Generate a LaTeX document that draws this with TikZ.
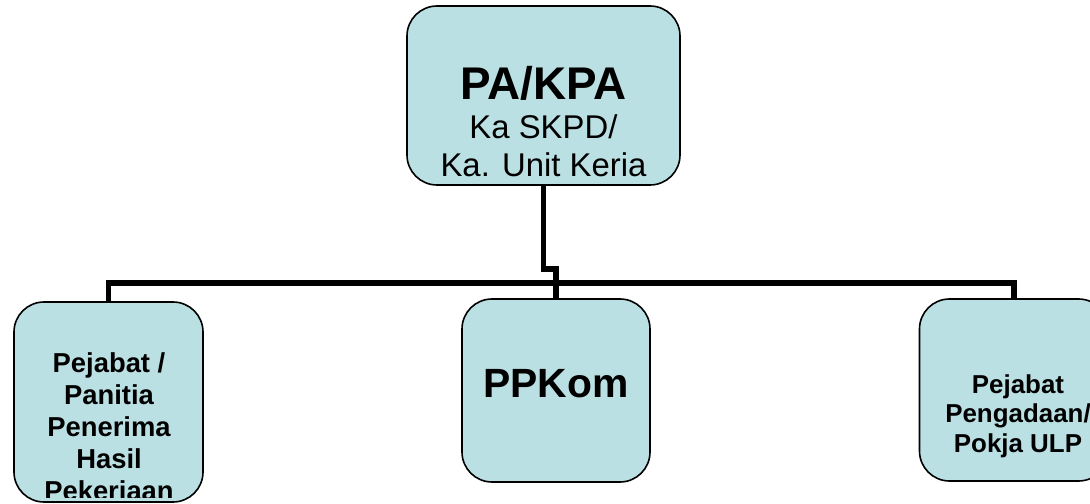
\documentclass[tikz,border=0pt]{standalone}
\usepackage{fontspec}
\setmainfont{Liberation Sans}
\definecolor{boxfill}{RGB}{187,224,227}
\begin{document}
\begin{tikzpicture}[x=1bp,y=-1bp,
  orgbox/.style={draw=black,line width=1.6bp,fill=boxfill,rounded corners=30bp,inner sep=0pt},
  conn/.style={draw=black,line width=5.5bp,line join=miter},
  lbl/.style={anchor=base,align=center,inner sep=0pt}]
\useasboundingbox (0,0) rectangle (1090,504);
\clip (0,0) rectangle (1090,504);
% boxes
\node[orgbox,minimum width=273bp,minimum height=179bp] (top) at (543.5,95.5) {};
\node[orgbox,minimum width=189bp,minimum height=200bp] (left) at (108.5,402) {};
\node[orgbox,minimum width=188bp,minimum height=183bp] (ppk) at (556,390.5) {};
\node[orgbox,minimum width=189bp,minimum height=182bp] (right) at (1014,390) {};
% connectors
\coordinate (jog) at (556,269);
\coordinate (bar) at (556,283);
\draw[conn] (top.south) |- (jog) -- (ppk.north);
\draw[conn] (left.north) |- (bar) -| (right.north);
% texts
\node[lbl,font=\fontsize{46}{50}\selectfont\bfseries] (t1) at (543.5,100) {PA/KPA};
\node[lbl,font=\fontsize{33}{39}\selectfont] (t2) at (543.5,177) {Ka SKPD/\\Ka. Unit Keria};
\node[lbl,font=\fontsize{41}{46}\selectfont\bfseries] (t3) at (556,397) {PPKom};
\begin{scope}
\clip (0,0) rectangle (1090,497);
\node[lbl,font=\fontsize{27.5}{32}\selectfont\bfseries] (t4) at (109,500) {Pejabat /\\Panitia\\Penerima\\Hasil\\Pekerjaan};
\end{scope}
\node[lbl,font=\fontsize{26}{29.5}\selectfont\bfseries] (t5) at (1018,452) {Pejabat\\Pengadaan/\\Pokja ULP};
\end{tikzpicture}
\end{document}
